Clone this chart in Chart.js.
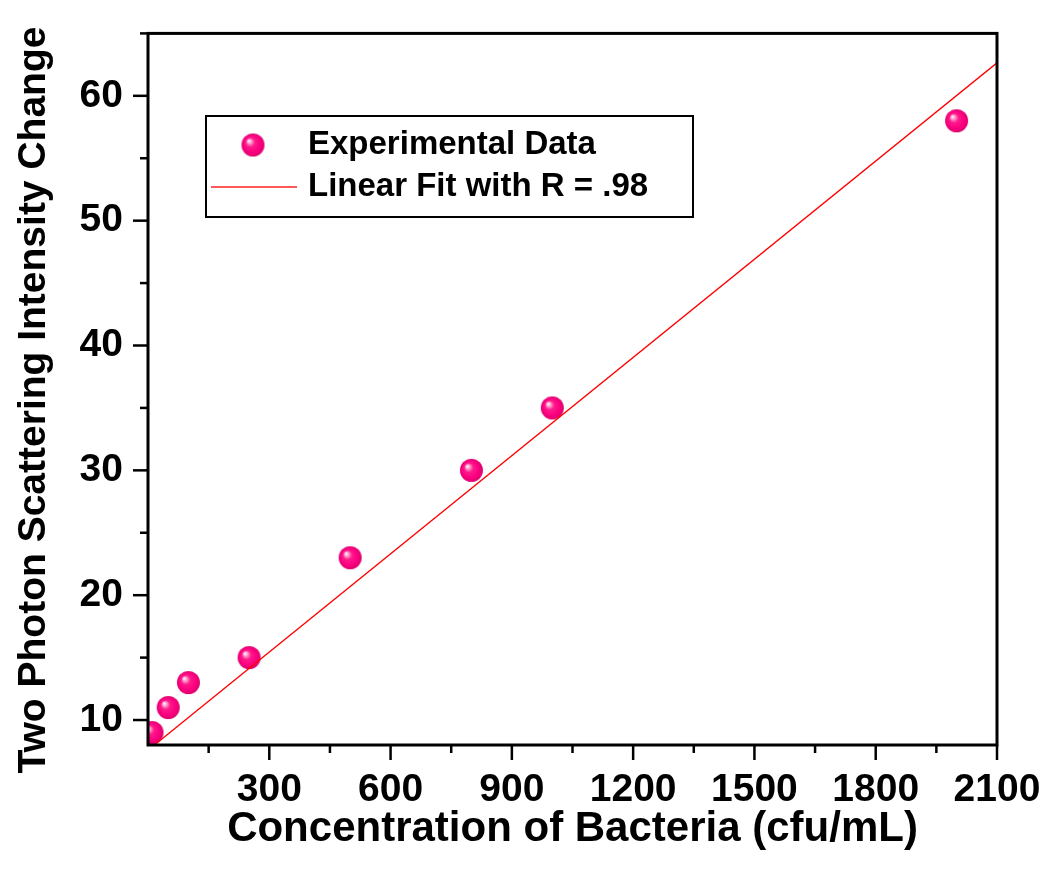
<!DOCTYPE html>
<html>
<head>
<meta charset="utf-8">
<script src="https://cdn.jsdelivr.net/npm/chart.js@4/dist/chart.umd.min.js"></script>
<style>
  html, body { margin: 0; padding: 0; background: #fff; }
  canvas { display: block; }
</style>
</head>
<body>
<canvas id="fitChart" width="1050" height="887"></canvas>
<script>
// data
const concentration = [10, 50, 100, 250, 500, 800, 1000, 2000];
const intensityChange = [9, 11, 13, 15, 23, 30, 35, 58];
const fitX = [0, 2100];
const fitY = [7.58, 62.64];
const xTicks = [150, 300, 450, 600, 750, 900, 1050, 1200, 1350, 1500, 1650, 1800, 1950, 2100];
const yTicks = [10, 15, 20, 25, 30, 35, 40, 45, 50, 55, 60, 65];
const seriesLabels = ['Experimental Data', 'Linear Fit with R = .98'];
const xTitle = 'Concentration of Bacteria (cfu/mL)';
const yTitle = 'Two Photon Scattering Intensity Change';

const FONT = '"Liberation Sans", Arial, Helvetica, sans-serif';

// shiny magenta ball used for the markers
function makeSphere(r) {
  const c = document.createElement('canvas');
  const s = r * 2 + 2;
  c.width = c.height = s;
  const g = c.getContext('2d');
  const cx = s / 2, cy = s / 2;
  const grad = g.createRadialGradient(cx - r * 0.38, cy - r * 0.38, 0, cx, cy, r);
  grad.addColorStop(0, '#ffffff');
  grad.addColorStop(0.12, '#ffc4e2');
  grad.addColorStop(0.4, '#ff1a8c');
  grad.addColorStop(0.75, '#fb0080');
  grad.addColorStop(1, '#dc006c');
  g.fillStyle = grad;
  g.beginPath();
  g.arc(cx, cy, r, 0, Math.PI * 2);
  g.fill();
  return c;
}
const sphere = makeSphere(11.5);

// frame + outward major/minor ticks + rotated y title
const framePlugin = {
  id: 'frame',
  afterDraw(chart) {
    const {ctx, chartArea: a, scales} = chart;
    ctx.save();
    ctx.strokeStyle = '#000';
    ctx.lineWidth = 2.5;
    scales.x.ticks.forEach(t => {
      const px = scales.x.getPixelForValue(t.value);
      const len = t.value % 300 === 0 ? 15 : 8;
      ctx.beginPath(); ctx.moveTo(px, a.bottom); ctx.lineTo(px, a.bottom + len); ctx.stroke();
    });
    scales.y.ticks.forEach(t => {
      const py = scales.y.getPixelForValue(t.value);
      const len = t.value % 10 === 0 ? 15 : 8;
      ctx.beginPath(); ctx.moveTo(a.left, py); ctx.lineTo(a.left - len, py); ctx.stroke();
    });
    ctx.lineWidth = 3;
    ctx.strokeRect(a.left, a.top, a.right - a.left, a.bottom - a.top);

    ctx.translate(34, 400);
    ctx.rotate(-Math.PI / 2);
    ctx.fillStyle = '#000';
    ctx.font = 'bold 39px ' + FONT;
    ctx.textAlign = 'center';
    ctx.textBaseline = 'middle';
    ctx.fillText(yTitle, 0, 0);
    ctx.restore();
  }
};

// boxed legend inside the plot
const legendPlugin = {
  id: 'boxLegend',
  afterDraw(chart) {
    const ctx = chart.ctx;
    ctx.save();
    ctx.strokeStyle = '#000';
    ctx.lineWidth = 2;
    ctx.strokeRect(206, 116, 487, 101);
    ctx.drawImage(sphere, 253 - sphere.width / 2, 145 - sphere.height / 2);
    ctx.strokeStyle = '#ff2020';
    ctx.lineWidth = 1.5;
    ctx.beginPath(); ctx.moveTo(211, 187); ctx.lineTo(297, 187); ctx.stroke();
    ctx.fillStyle = '#000';
    ctx.font = 'bold 33px ' + FONT;
    ctx.textBaseline = 'middle';
    ctx.fillText(seriesLabels[0], 308, 145);
    ctx.fillText(seriesLabels[1], 308, 187);
    ctx.restore();
  }
};

const tickFont = { family: FONT, size: 39, weight: 'bold' };

new Chart(document.getElementById('fitChart'), {
  type: 'scatter',
  data: {
    datasets: [
      {
        label: seriesLabels[1],
        data: fitX.map((x, i) => ({ x, y: fitY[i] })),
        showLine: true,
        borderColor: '#ff0000',
        borderWidth: 1.3,
        pointRadius: 0,
        order: 0
      },
      {
        label: seriesLabels[0],
        data: concentration.map((x, i) => ({ x, y: intensityChange[i] })),
        pointStyle: sphere,
        pointRadius: 11.5,
        clip: 0,
        order: 1
      }
    ]
  },
  options: {
    responsive: false,
    animation: false,
    layout: { padding: { top: 32, right: 53, left: 0, bottom: 0 } },
    plugins: { legend: { display: false }, tooltip: { enabled: false } },
    scales: {
      x: {
        type: 'linear',
        min: 0, max: 2100,
        border: { display: false },
        grid: { drawOnChartArea: false, drawTicks: true, tickLength: 15, tickColor: 'rgba(0,0,0,0)' },
        afterBuildTicks: s => { s.ticks = xTicks.map(v => ({ value: v })); },
        ticks: {
          padding: 7, color: '#000', font: tickFont, maxRotation: 0, autoSkip: false,
          callback: v => (v % 300 === 0) ? String(v) : ''
        },
        title: { display: true, text: xTitle, color: '#000', padding: { top: 0, bottom: 32 },
                 font: { family: FONT, size: 42, weight: 'bold' } },
        afterFit: s => { s.height = 887 - 745; }
      },
      y: {
        type: 'linear',
        min: 8, max: 65,
        border: { display: false },
        grid: { drawOnChartArea: false, drawTicks: true, tickLength: 15, tickColor: 'rgba(0,0,0,0)' },
        afterBuildTicks: s => { s.ticks = yTicks.map(v => ({ value: v })); },
        ticks: {
          padding: 10, color: '#000', font: tickFont, autoSkip: false,
          callback: v => (v % 10 === 0) ? String(v) : ''
        },
        title: { display: false },
        afterFit: s => { s.width = 148; }
      }
    }
  },
  plugins: [framePlugin, legendPlugin]
});
</script>
</body>
</html>
